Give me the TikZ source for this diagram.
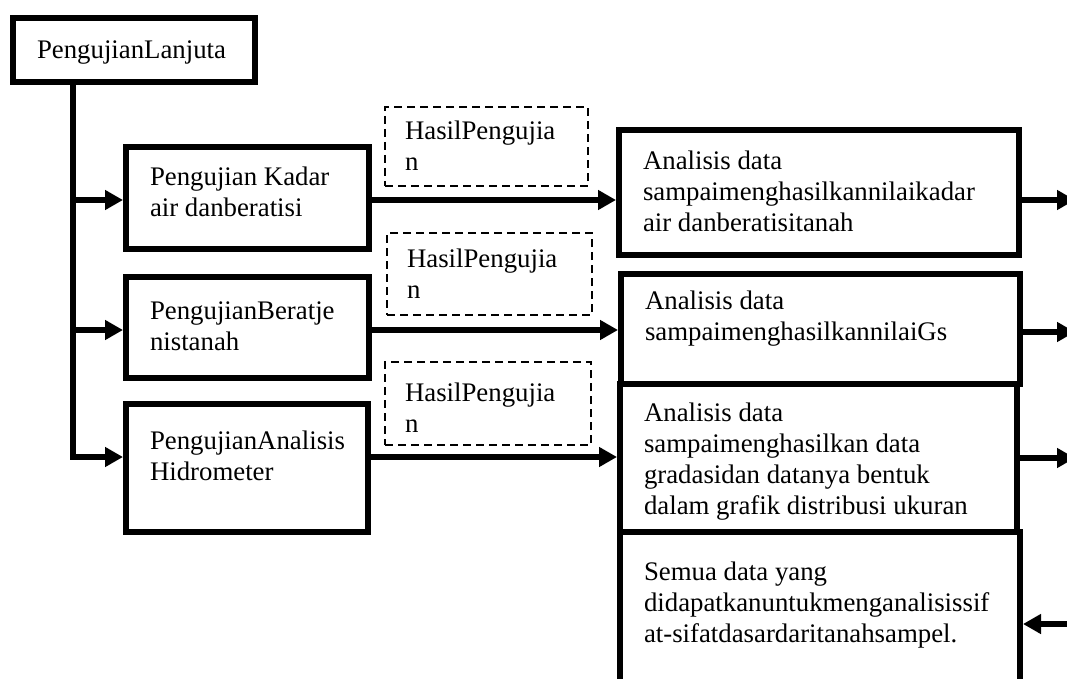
\documentclass[tikz,border=0pt]{standalone}
\usepackage{fontspec}
\setmainfont{Liberation Serif}
\usetikzlibrary{arrows.meta}
\hyphenpenalty=10000
\exhyphenpenalty=10000
\newcommand{\boxtxt}[4][0pt]{\parbox[t][#3][t]{#2}{\raggedright\vspace*{#1}\strut#4}}

\begin{document}
\begin{tikzpicture}
      [x=1pt,y=-1pt,
       every node/.style={font=\fontsize{26.8}{31}\selectfont},
       box/.style={draw,line width=6pt,outer sep=3pt,inner xsep=24pt,inner ysep=14pt,anchor=north west},
       note/.style={draw,line width=2pt,dash pattern=on 8pt off 5pt,outer sep=1pt,inner xsep=20pt,inner ysep=13pt,anchor=north west},
       arr/.style={line width=6pt,-{Triangle[length=18pt,width=19pt]}}]
      \useasboundingbox (0,0) rectangle (1067,679);
      \clip (0,0) rectangle (1067,679);

      \node[box] (lanjut) at (10,15) {\boxtxt[5pt]{194pt}{36pt}{PengujianLanjuta}};
      \node[box] (kadar) at (123,144) {\boxtxt[3pt]{195pt}{74pt}{Pengujian Kadar\\air danberatisi}};
      \node[box] (berat) at (123,274) {\boxtxt[7pt]{195pt}{73pt}{PengujianBeratje\\nistanah}};
      \node[box] (hidro) at (123,401) {\boxtxt[10pt]{194pt}{100pt}{PengujianAnalisis\\Hidrometer}};

      \node[note] (hasil1) at (384,106) {\boxtxt[-2pt]{163pt}{53pt}{HasilPengujia\\n}};
      \node[note] (hasil2) at (386,232) {\boxtxt{165pt}{56pt}{HasilPengujia\\n}};
      \node[note] (hasil3) at (384,361) {\boxtxt[5pt]{166pt}{57pt}{HasilPengujia\\n}};

      \node[box] (anakadar) at (616,127) {\boxtxt[4pt]{352pt}{97pt}{Analisis data\\sampaimenghasilkannilaikadar\\air danberatisitanah}};
      \node[box] (anags) at (618,271) {\boxtxt{351pt}{82pt}{Analisis data\\sampaimenghasilkannilaiGs}};
      \node[box] (anagrad) at (617,381) {\boxtxt[2pt]{349pt}{120pt}{Analisis data\\sampaimenghasilkan data\\gradasidan datanya bentuk\\dalam grafik distribusi ukuran}};
      \node[box] (semua) at (617,529) {\boxtxt[13pt]{352pt}{156pt}{Semua data yang\\didapatkanuntukmenganalisissif\\at-sifatdasardaritanahsampel.}};

      \coordinate (trunk) at (73,82);
      \coordinate (edge) at (1075,0);

      \foreach \to/\dy in {kadar/-2, berat/-2.5, hidro/11}
      \draw [arr] (trunk) |- ([yshift=\dy pt]\to.west);

      \foreach \from/\to/\dy in {kadar/anakadar/-2, berat/anags/-2.5, hidro/anagrad/11}
      \draw [arr] ([yshift=\dy pt]\from.east) -- ([yshift=\dy pt]\from.east -| \to.west);

      \foreach \from/\dy in {anakadar/-7.5, anags/-3, anagrad/0}
      \draw [arr] ([yshift=\dy pt]\from.east) -- ([yshift=\dy pt]\from.east -| edge);

      \draw [arr] (semua.east -| edge) -- (semua.east);
    \end{tikzpicture}
\end{document}
